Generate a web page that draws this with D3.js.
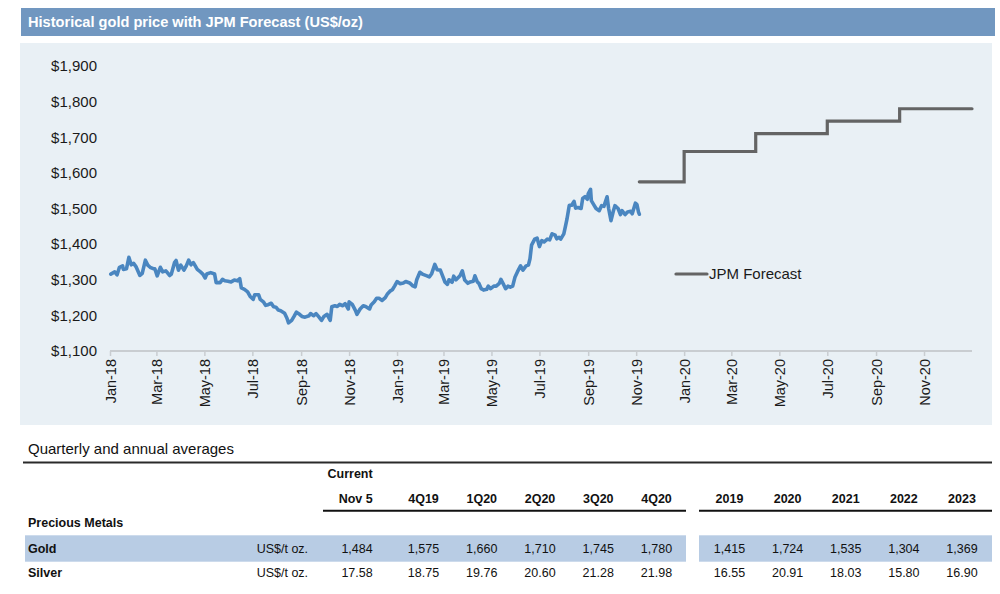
<!DOCTYPE html>
<html><head><meta charset="utf-8">
<script src="https://cdn.jsdelivr.net/npm/d3@7"></script>
<style>body{margin:0;background:#fff;} svg{display:block;font-family:"Liberation Sans",Arial,sans-serif;}</style>
</head><body><svg id="c" width="1000" height="594"></svg>
<script>
const chartTitle = "Historical gold price with JPM Forecast (US$/oz)";
const goldDates = ["2018-01-02","2018-01-07","2018-01-10","2018-01-13","2018-01-17","2018-01-18","2018-01-22","2018-01-25","2018-01-28","2018-01-31","2018-02-03","2018-02-08","2018-02-11","2018-02-15","2018-02-18","2018-02-21","2018-02-25","2018-02-27","2018-03-02","2018-03-06","2018-03-09","2018-03-13","2018-03-18","2018-03-20","2018-03-24","2018-03-26","2018-03-29","2018-04-01","2018-04-05","2018-04-08","2018-04-11","2018-04-14","2018-04-17","2018-04-22","2018-04-26","2018-04-29","2018-05-02","2018-05-04","2018-05-09","2018-05-14","2018-05-16","2018-05-21","2018-05-24","2018-05-27","2018-05-31","2018-06-04","2018-06-08","2018-06-12","2018-06-15","2018-06-17","2018-06-21","2018-06-25","2018-06-28","2018-07-02","2018-07-04","2018-07-09","2018-07-11","2018-07-15","2018-07-18","2018-07-21","2018-07-25","2018-07-28","2018-07-31","2018-08-03","2018-08-06","2018-08-11","2018-08-14","2018-08-16","2018-08-20","2018-08-23","2018-08-26","2018-08-30","2018-09-02","2018-09-06","2018-09-11","2018-09-13","2018-09-17","2018-09-20","2018-09-23","2018-09-27","2018-09-30","2018-10-04","2018-10-08","2018-10-10","2018-10-14","2018-10-17","2018-10-20","2018-10-24","2018-10-27","2018-10-31","2018-11-01","2018-11-05","2018-11-09","2018-11-11","2018-11-15","2018-11-19","2018-11-22","2018-11-27","2018-11-29","2018-12-03","2018-12-06","2018-12-09","2018-12-13","2018-12-17","2018-12-20","2018-12-23","2018-12-26","2018-12-29","2019-01-01","2019-01-05","2019-01-09","2019-01-12","2019-01-17","2019-01-21","2019-01-24","2019-01-26","2019-01-30","2019-02-03","2019-02-08","2019-02-11","2019-02-14","2019-02-18","2019-02-21","2019-02-25","2019-02-28","2019-03-03","2019-03-06","2019-03-08","2019-03-12","2019-03-14","2019-03-17","2019-03-22","2019-03-25","2019-03-28","2019-04-01","2019-04-04","2019-04-08","2019-04-10","2019-04-13","2019-04-15","2019-04-18","2019-04-21","2019-04-25","2019-04-27","2019-04-30","2019-05-04","2019-05-07","2019-05-11","2019-05-13","2019-05-17","2019-05-19","2019-05-22","2019-05-25","2019-05-28","2019-05-31","2019-06-03","2019-06-07","2019-06-10","2019-06-14","2019-06-17","2019-06-19","2019-06-21","2019-06-25","2019-06-28","2019-07-01","2019-07-04","2019-07-07","2019-07-11","2019-07-14","2019-07-17","2019-07-21","2019-07-23","2019-07-26","2019-07-28","2019-08-01","2019-08-03","2019-08-05","2019-08-07","2019-08-08","2019-08-11","2019-08-14","2019-08-16","2019-08-19","2019-08-23","2019-08-25","2019-08-28","2019-08-31","2019-09-01","2019-09-04","2019-09-05","2019-09-08","2019-09-11","2019-09-15","2019-09-18","2019-09-21","2019-09-25","2019-09-27","2019-09-30","2019-10-03","2019-10-05","2019-10-09","2019-10-12","2019-10-14","2019-10-18","2019-10-21","2019-10-25","2019-10-27","2019-10-31","2019-11-02","2019-11-04","2019-11-05"];
const goldValues = [1316,1322,1314,1335,1339,1329,1331,1363,1342,1346,1337,1312,1318,1355,1341,1335,1331,1331,1311,1335,1322,1325,1312,1316,1348,1354,1327,1341,1327,1339,1355,1342,1348,1329,1322,1316,1305,1316,1320,1316,1292,1292,1301,1297,1296,1294,1299,1297,1303,1277,1273,1266,1254,1245,1258,1258,1245,1238,1228,1230,1234,1224,1223,1215,1213,1206,1192,1179,1186,1197,1209,1203,1197,1195,1199,1205,1199,1205,1197,1186,1197,1203,1186,1224,1227,1225,1231,1227,1233,1218,1238,1231,1214,1203,1218,1227,1225,1218,1229,1238,1248,1248,1242,1250,1261,1268,1272,1283,1295,1289,1291,1295,1291,1283,1280,1300,1321,1315,1311,1308,1317,1343,1328,1327,1310,1293,1287,1300,1293,1310,1300,1311,1325,1299,1290,1294,1296,1311,1294,1290,1275,1271,1273,1282,1275,1282,1282,1290,1301,1284,1275,1282,1279,1282,1308,1322,1339,1327,1339,1341,1359,1397,1414,1417,1393,1410,1406,1414,1412,1429,1425,1415,1419,1414,1429,1449,1470,1496,1509,1509,1520,1501,1503,1500,1528,1533,1526,1541,1554,1522,1511,1500,1494,1508,1506,1533,1500,1466,1493,1508,1500,1483,1494,1483,1490,1492,1485,1515,1511,1490,1484];
const forecastDates = ["2019-11-05","2020-01-01","2020-04-01","2020-07-01","2020-10-01","2021-01-01"];
const forecastValues = [1575,1660,1710,1745,1780,1780];
const yTicks = [1100,1200,1300,1400,1500,1600,1700,1800,1900];
const legendLabel = "JPM Forecast";

const tableTitle = "Quarterly and annual averages";
const currentLabel = "Current";
const currentHeader = "Nov 5";
const quarterHeaders = ["4Q19","1Q20","2Q20","3Q20","4Q20"];
const annualHeaders = ["2019","2020","2021","2022","2023"];
const sectionLabel = "Precious Metals";
const rowNames = ["Gold","Silver"];
const rowUnits = ["US$/t oz.","US$/t oz."];
const goldRow = [1484,1575,1660,1710,1745,1780,1415,1724,1535,1304,1369];
const silverRow = [17.58,18.75,19.76,20.60,21.28,21.98,16.55,20.91,18.03,15.80,16.90];

const svg = d3.select("#c");
const parse = d3.timeParse("%Y-%m-%d");

// Title bar
svg.append("rect").attr("x",21).attr("y",8).attr("width",974).attr("height",28).attr("fill","#7197c0");
svg.append("text").attr("x",28).attr("y",22).attr("dy","0.35em").attr("fill","#fff")
  .attr("font-weight","bold").attr("font-size","14.6px").text(chartTitle);

// Panel
svg.append("rect").attr("x",20).attr("y",43).attr("width",972).attr("height",382).attr("fill","#e9f0f5");

const start = parse("2018-01-01"), end = parse("2021-01-01");
const x = d3.scaleTime().domain([start, end]).range([110,972]);
const y = d3.scaleLinear().domain([1100,1900]).range([351,66]);

// Y axis labels
const yAxis = d3.axisLeft(y).tickValues(yTicks).tickSize(0).tickPadding(0)
  .tickFormat(d => "$" + d3.format(",")(d));
const gy = svg.append("g").attr("transform","translate(97,0)").call(yAxis);
gy.select(".domain").remove();
gy.selectAll("text").attr("font-size","15px").attr("fill","#1a1a1a").attr("font-family","Liberation Sans, Arial, sans-serif");

// X axis
const xTicks = d3.timeMonth.every(2).range(start, end);
const xAxis = d3.axisBottom(x).tickValues(xTicks).tickSize(5).tickFormat(d3.timeFormat("%b-%y"));
const gx = svg.append("g").attr("transform","translate(0,351)").call(xAxis);
gx.select(".domain").attr("stroke","#c9cdd1").attr("stroke-width",2).attr("d","M110,0H972");
gx.selectAll(".tick line").attr("stroke","#c9cdd1").attr("stroke-width",1.5);
gx.selectAll(".tick text").attr("font-size","14.5px").attr("fill","#1a1a1a")
  .attr("font-family","Liberation Sans, Arial, sans-serif")
  .attr("transform","rotate(-90)").attr("text-anchor","end")
  .attr("x",-8).attr("y",0).attr("dy","0.35em");

// Gold line
const gold = goldDates.map((d,i) => ({date: parse(d), value: goldValues[i]}));
svg.append("path").datum(gold)
  .attr("fill","none").attr("stroke","#4a86c0").attr("stroke-width",3.6)
  .attr("stroke-linejoin","round").attr("stroke-linecap","round")
  .attr("d", d3.line().x(d=>x(d.date)).y(d=>y(d.value)));

// Forecast step line
const fc = forecastDates.map((d,i) => ({date: parse(d), value: forecastValues[i]}));
svg.append("path").datum(fc)
  .attr("fill","none").attr("stroke","#646464").attr("stroke-width",3.2)
  .attr("stroke-linecap","round")
  .attr("d", d3.line().curve(d3.curveStepAfter).x(d=>x(d.date)).y(d=>y(d.value)));

// Legend
svg.append("line").attr("x1",676).attr("x2",707).attr("y1",274).attr("y2",274)
  .attr("stroke","#646464").attr("stroke-width",3.2).attr("stroke-linecap","round");
svg.append("text").attr("x",709).attr("y",274).attr("dy","0.35em").attr("font-size","15px")
  .attr("fill","#1a1a1a").text(legendLabel);

// Table
const tfs = "12.5px";
svg.append("text").attr("x",28).attr("y",449).attr("dy","0.35em").attr("font-size","15px")
  .attr("fill","#111").text(tableTitle);
svg.append("line").attr("x1",23).attr("x2",992).attr("y1",462.5).attr("y2",462.5)
  .attr("stroke","#2a2a2a").attr("stroke-width",2);

const xq = d3.scalePoint().domain(quarterHeaders).range([423.5,656.5]);
const xa = d3.scalePoint().domain(annualHeaders).range([729.5,962]);
const curRight = 372.7;

// header underline
svg.append("line").attr("x1",323).attr("x2",686).attr("y1",510.8).attr("y2",510.8).attr("stroke","#111").attr("stroke-width",2);
svg.append("line").attr("x1",699).attr("x2",992).attr("y1",510.8).attr("y2",510.8).attr("stroke","#111").attr("stroke-width",2);

// gold row bands
svg.append("rect").attr("x",25).attr("y",535.3).attr("width",661).attr("height",26.4).attr("fill","#b8cce4");
svg.append("rect").attr("x",699).attr("y",535.3).attr("width",293).attr("height",26.4).attr("fill","#b8cce4");

function txt(xp, yp, s, anchor, bold) {
  svg.append("text").attr("x",xp).attr("y",yp).attr("dy","0.35em")
    .attr("text-anchor",anchor).attr("font-size",tfs)
    .attr("font-weight", bold ? "bold" : "normal").attr("fill","#111").text(s);
}
txt(curRight, 473.5, currentLabel, "end", true);
txt(curRight, 498.5, currentHeader, "end", true);
quarterHeaders.forEach(h => txt(xq(h), 498.5, h, "middle", true));
annualHeaders.forEach(h => txt(xa(h), 498.5, h, "middle", true));
txt(28, 522.7, sectionLabel, "start", true);

const rows = [goldRow, silverRow];
const rowY = [548.3, 572.5];
const fmts = [d3.format(","), d3.format(".2f")];
const allCols = quarterHeaders.concat(annualHeaders);
rows.forEach((r, ri) => {
  txt(28, rowY[ri], rowNames[ri], "start", true);
  txt(256.7, rowY[ri], rowUnits[ri], "start", false);
  txt(curRight, rowY[ri], fmts[ri](r[0]), "end", false);
  r.slice(1).forEach((v, ci) => {
    const h = allCols[ci];
    const xp = ci < 5 ? xq(h) : xa(h);
    txt(xp, rowY[ri], fmts[ri](v), "middle", false);
  });
});
</script></body></html>
